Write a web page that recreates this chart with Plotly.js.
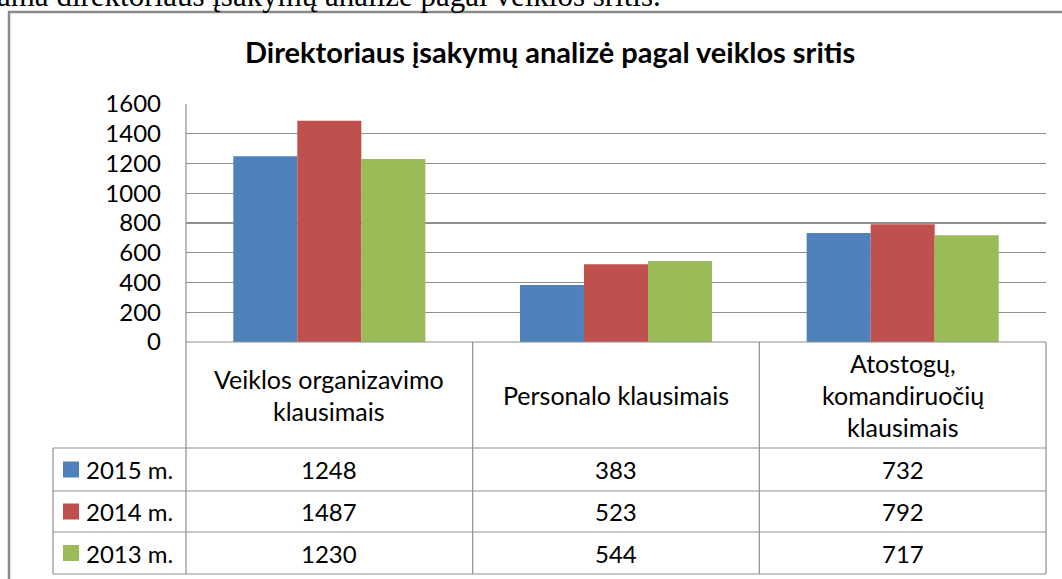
<!DOCTYPE html>
<html><head><meta charset="utf-8">
<script src="https://cdn.plot.ly/plotly-3.0.1.min.js"></script>
<style>html,body{margin:0;padding:0;background:#fff;}#chart{width:1062px;height:579px;}</style>
</head><body><div id="chart"></div>
<script>
// ---- data ----
const categories = ["Veiklos organizavimo<br>klausimais", "Personalo klausimais", "Atostogų,<br>komandiruočių<br>klausimais"];
const seriesNames = ["2015 m.", "2014 m.", "2013 m."];
const values2015 = [1248, 383, 732];
const values2014 = [1487, 523, 792];
const values2013 = [1230, 544, 717];
const seriesColors = ["#4F81BD", "#C0504D", "#9BBB59"];
const yTicks = [0, 200, 400, 600, 800, 1000, 1200, 1400, 1600];
const chartTitle = "Direktoriaus įsakymų analizė pagal veiklos sritis";
const captionText = "ama direktoriaus įsakymų analizė pagal veiklos sritis.";

const seriesValues = [values2015, values2014, values2013];
const FONT = "Lato, 'Noto Sans', sans-serif";
const GRID = "#8f8f8f";

// plot area geometry in pixels
const L = 186, R = 1046, T = 104, B = 342, W = 1062, H = 579;
const px = x => (x - L) / (R - L);
const py = y => (B - y) / (B - T);

const traces = seriesNames.map((n, i) => ({
  type: "bar", name: n, x: categories, y: seriesValues[i],
  marker: {color: seriesColors[i]}, hoverinfo: "x+y"
}));

const shapes = [];
const annotations = [];
function hline(x0, x1, y, color, w) {
  shapes.push({type: "line", xref: "paper", yref: "paper", x0: px(x0), x1: px(x1), y0: py(y), y1: py(y), line: {color: color || GRID, width: w || 1.2}});
}
function vline(x, y0, y1, color, w) {
  shapes.push({type: "line", xref: "paper", yref: "paper", x0: px(x), x1: px(x), y0: py(y0), y1: py(y1), line: {color: color || GRID, width: w || 1.2}});
}
// table geometry
const colX = [L, L + (R - L) / 3, L + 2 * (R - L) / 3, R];
const legendLeft = 53;
const rowY = [342, 448, 491, 532, 574];

hline(L, R, rowY[0]);
for (let r = 1; r < rowY.length; r++) hline(legendLeft, R, rowY[r]);
vline(L, T, rowY[4]);
for (let c = 1; c < colX.length; c++) vline(colX[c], rowY[0], rowY[4]);
vline(legendLeft, rowY[1], rowY[4]);

// outer chart border
shapes.push({type: "rect", xref: "paper", yref: "paper", x0: px(9), x1: px(1075), y0: py(12), y1: py(600), line: {color: "#8a8a8a", width: 2.5}});

// header (category) labels
categories.forEach((cat, ci) => {
  const lines = cat.split("<br>");
  const cx = (colX[ci] + colX[ci + 1]) / 2;
  const cy = (rowY[0] + rowY[1]) / 2;
  const lh = 32;
  lines.forEach((ln, li) => {
    const y = cy + (li - (lines.length - 1) / 2) * lh;
    annotations.push({xref: "paper", yref: "paper", x: px(cx), y: py(y), text: ln, showarrow: false, xanchor: "center", yanchor: "middle", font: {family: FONT, size: 25, color: "#000"}});
  });
});
// data rows
seriesNames.forEach((n, si) => {
  const cy = (rowY[si + 1] + rowY[si + 2]) / 2;
  shapes.push({type: "rect", xref: "paper", yref: "paper", x0: px(63), x1: px(79), y0: py(cy - 8), y1: py(cy + 8), fillcolor: seriesColors[si], line: {width: 0}});
  annotations.push({xref: "paper", yref: "paper", x: px(84), y: py(cy), text: n, showarrow: false, xanchor: "left", yanchor: "middle", font: {family: FONT, size: 24, color: "#000"}});
  seriesValues[si].forEach((v, ci) => {
    const cx = (colX[ci] + colX[ci + 1]) / 2;
    annotations.push({xref: "paper", yref: "paper", x: px(cx), y: py(cy), text: String(v), showarrow: false, xanchor: "center", yanchor: "middle", font: {family: FONT, size: 24, color: "#000"}});
  });
});
// caption text cut at top
annotations.push({xref: "paper", yref: "paper", x: px(-5), y: py(-5), text: captionText, showarrow: false, xanchor: "left", yanchor: "middle", font: {family: "'Liberation Serif', serif", size: 31, color: "#000"}});

const layout = {
  width: W, height: H,
  margin: {l: L, r: W - R, t: T, b: H - B, pad: 0},
  paper_bgcolor: "#fff", plot_bgcolor: "#fff",
  title: {text: "<b>" + chartTitle + "</b>", x: 0.518, xanchor: "center", y: 1 - 53 / H, yanchor: "middle", font: {family: FONT, size: 29, color: "#000"}},
  showlegend: false,
  barmode: "group", bargap: 0.33, bargroupgap: 0,
  xaxis: {type: "category", range: [-0.5, 2.5], showticklabels: false, showgrid: false, zeroline: false, showline: false, ticks: ""},
  yaxis: {range: [0, 1600], tickvals: yTicks, ticktext: yTicks.map(String), showgrid: true, gridcolor: GRID, gridwidth: 1.2, zeroline: false, showline: false, ticks: "", ticklabelstandoff: 24, tickfont: {family: FONT, size: 24, color: "#000"}},
  shapes: shapes, annotations: annotations
};
Plotly.newPlot("chart", traces, layout, {displayModeBar: false, staticPlot: true});
</script></body></html>
